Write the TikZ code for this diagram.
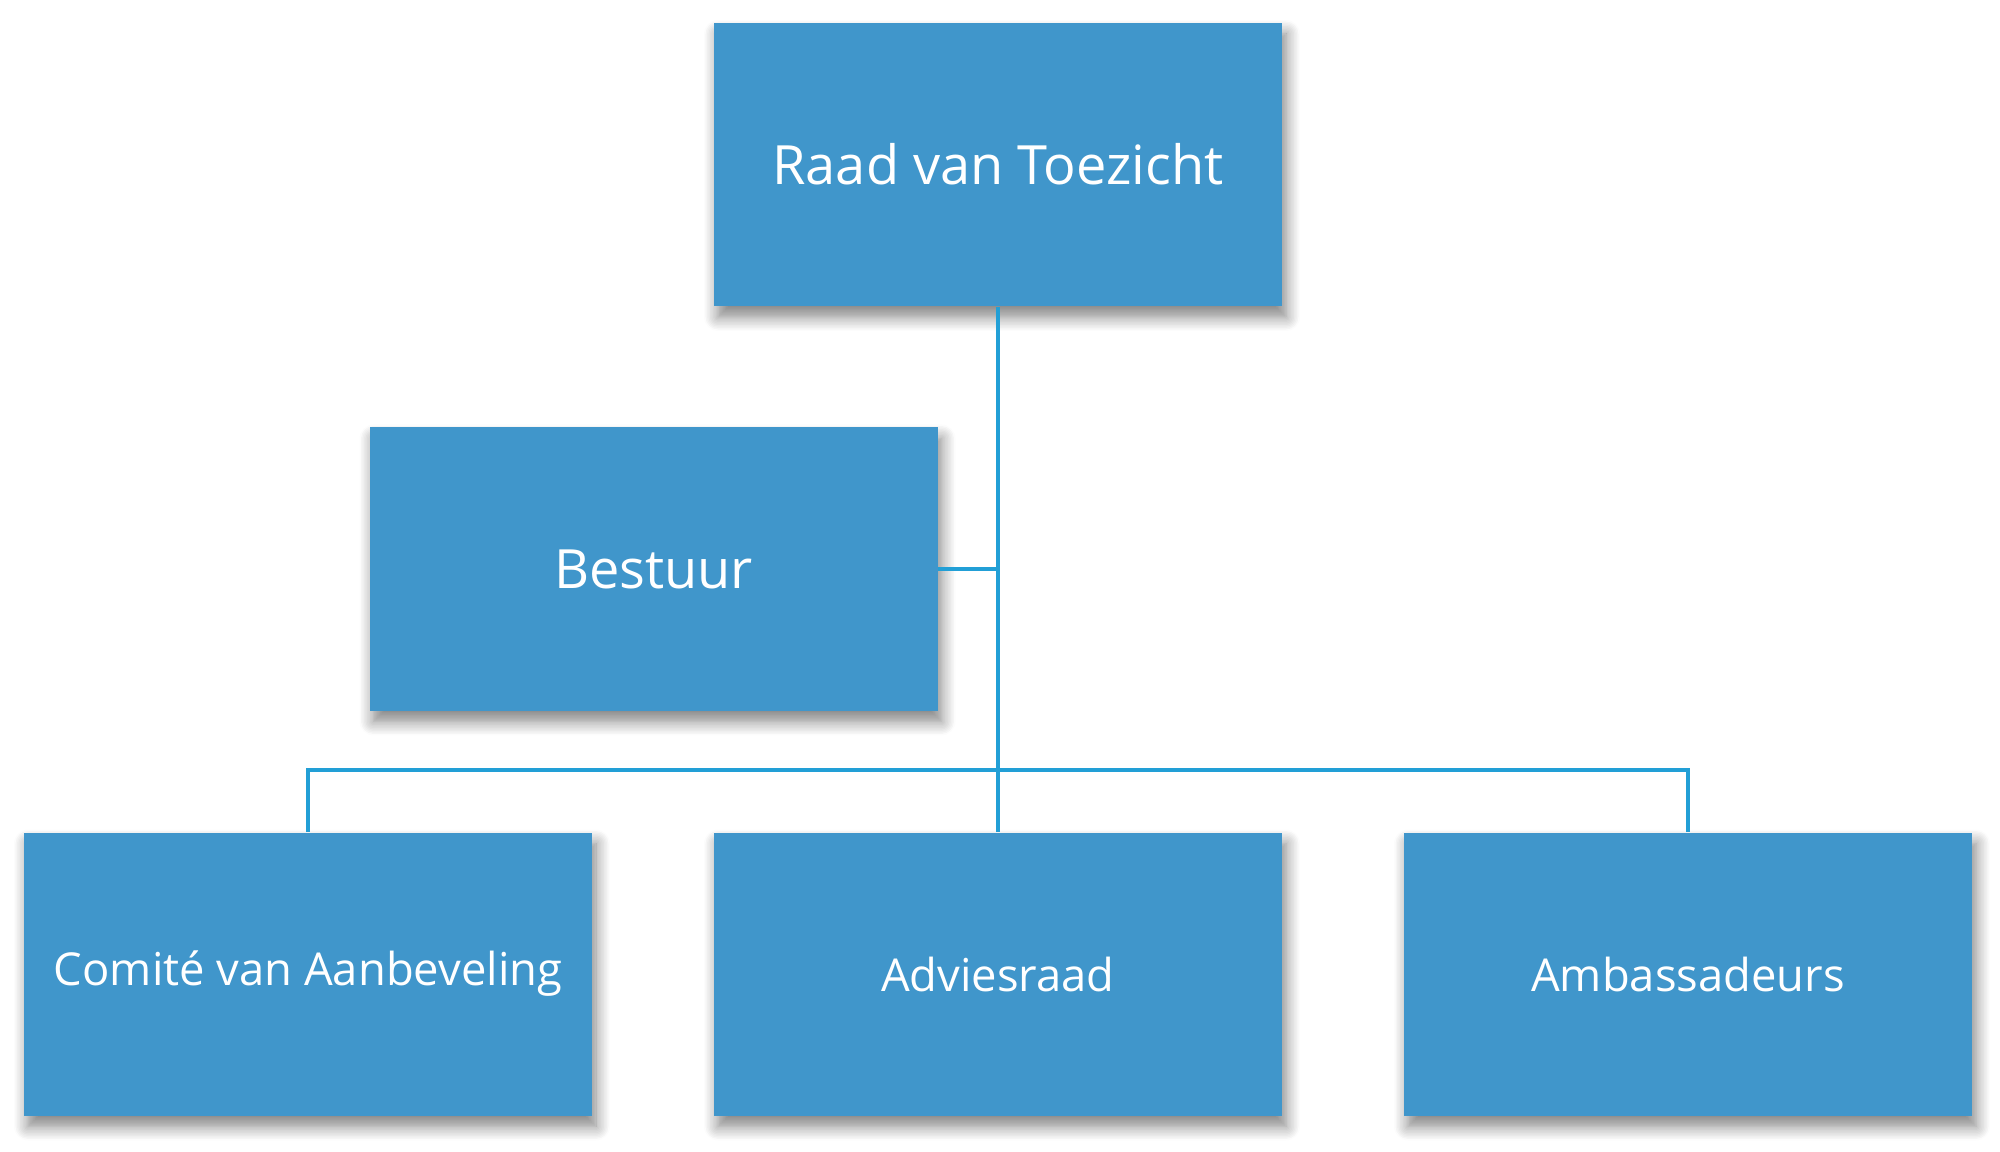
\documentclass[tikz,border=0pt]{standalone}
\usepackage{fontspec}
\setmainfont{Open Sans}
\usetikzlibrary{shadows.blur}
\definecolor{boxblue}{HTML}{4096CB}
\definecolor{lineblue}{HTML}{229FD6}
\tikzset{
	orgbox/.style={fill=boxblue, text=white, minimum width=5.68cm, minimum height=2.83cm,
		inner sep=0pt, blur shadow={shadow xshift=0.4mm, shadow yshift=-1.1mm, shadow blur radius=1.4mm, shadow blur steps=10, shadow opacity=50}},
	orgline/.style={draw=lineblue, line width=1.4pt}
}
\begin{document}
\begin{tikzpicture}
		\useasboundingbox (0, 0) rectangle (20, 11.51);
		
		\node[orgbox, font=\fontsize{15.4}{18}\selectfont] (raad) at (9.98, 9.865) {Raad van Toezicht};
		\node[orgbox, font=\fontsize{15.4}{18}\selectfont] (bestuur) at (6.535, 5.82) {Bestuur};
		
		\node[orgbox, font=\fontsize{12.9}{15}\selectfont] (comite) at (3.08, 1.77) {Comité van Aanbeveling};
		\node[orgbox, font=\fontsize{12.9}{15}\selectfont] (advies) at (9.98, 1.77) {Adviesraad};
		\node[orgbox, font=\fontsize{12.9}{15}\selectfont] (ambas) at (16.88, 1.77) {Ambassadeurs};
		
		\coordinate (bus) at (9.98, 3.81);
		
		\draw[orgline] (raad.south) -- (advies.north);
		\draw[orgline] (bestuur.east) -- (bestuur.east -| raad.south);
		\draw[orgline] (comite.north) |- (bus) -| (ambas.north);
\end{tikzpicture}
\end{document}
